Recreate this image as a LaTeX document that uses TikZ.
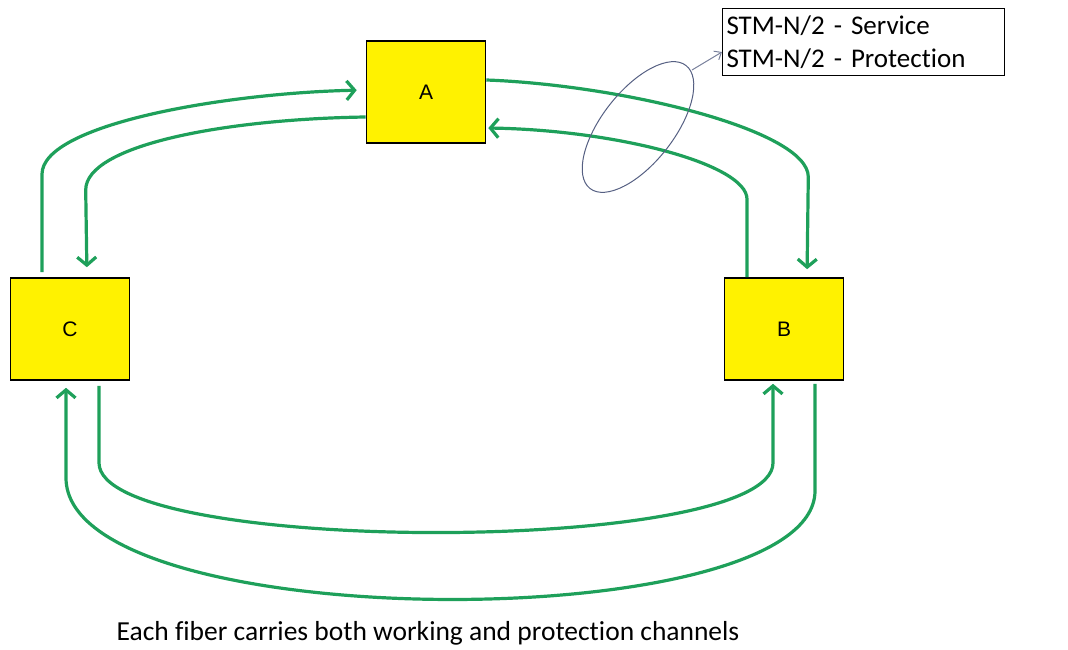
\documentclass[tikz,border=0pt]{standalone}
\usepackage{fontspec}
\setmainfont[Ligatures=CommonOff]{Carlito}
\newfontfamily\boxfont{Liberation Sans}
\usetikzlibrary{calc, arrows.meta}
\definecolor{fibergreen}{RGB}{30,160,90}
\definecolor{ovalblue}{RGB}{85,95,130}

\begin{document}
\begin{tikzpicture}[x=1pt,y=-1pt,
    site/.style={draw=black, line width=1.6pt, fill=yellow, minimum width=119pt,
                 minimum height=102pt, font=\boxfont\fontsize{21}{23}\selectfont},
    fiber/.style={draw=fibergreen, line width=3.2pt},
    tip/.style={-{Straight Barb[length=8pt,width=19pt]}}]
    \useasboundingbox (0,0) rectangle (1068,650);
    % nodes of the ring
    \node[site] (A) at (426,92) {A};
    \node[site] (C) at (70,329) {C};
    \node[site] (B) at (784,329) {B};
    \node[draw=black, line width=1pt, anchor=north west, minimum width=282pt, minimum height=67pt,
          text width=274pt, inner sep=3pt, align=left, font=\fontsize{27}{33}\selectfont]
          (legend) at (722,8) {STM-N/2 - Service\\STM-N/2 - Protection};
    \node[font=\fontsize{27.5}{30}\selectfont] (note) at (428,633)
          {Each fiber carries both working and protection channels};
    % fibers between A and C
    \draw[fiber,tip,shorten <=5pt,shorten >=9pt] ([xshift=-28pt]C.north) -- ++(0,-103)
        .. controls +(0,-50) and +(-140,3) .. ([yshift=2pt]A.west);
    \draw[fiber,tip,shorten >=10pt] ([yshift=-25pt]A.west)
        .. controls +(-140,2) and +(0,-45) .. ++(-280,73) -- ([xshift=17pt]C.north);
    % fibers between A and B
    \draw[fiber,tip,shorten >=8pt] ([yshift=12pt]A.east)
        .. controls +(135,5) and +(0,-47) .. ++(322,97) -- ([xshift=23pt]B.north);
    \draw[fiber,tip,shorten >=2pt] ([xshift=-37pt]B.north) -- ++(0,-78)
        .. controls +(0,-35) and +(130,2) .. ([yshift=-36pt]A.east);
    % fibers between C and B
    \draw[fiber,tip,shorten <=5pt,shorten >=3pt] ([xshift=29pt]C.south) -- ++(0,82)
        .. controls +(0,93) and +(0,93) .. ++(674,0) -- ([xshift=-11pt]B.south);
    \draw[fiber,tip,shorten <=3pt,shorten >=7pt] ([xshift=31pt]B.south) -- ++(0,110)
        .. controls +(0,147) and +(0,160) .. ++(-749,-13) -- ([xshift=-4pt]C.south);
    % bundle marker
    \draw[ovalblue, line width=1pt, rotate around={-38:(638,127)}] (638,127) ellipse [x radius=36pt, y radius=78pt];
    \coordinate (oval) at (692,70);
    \draw[ovalblue!80, line width=1pt, -{Straight Barb[length=6pt,width=10pt]}] (oval) -- ([yshift=-10pt]legend.west);
\end{tikzpicture}
\end{document}
